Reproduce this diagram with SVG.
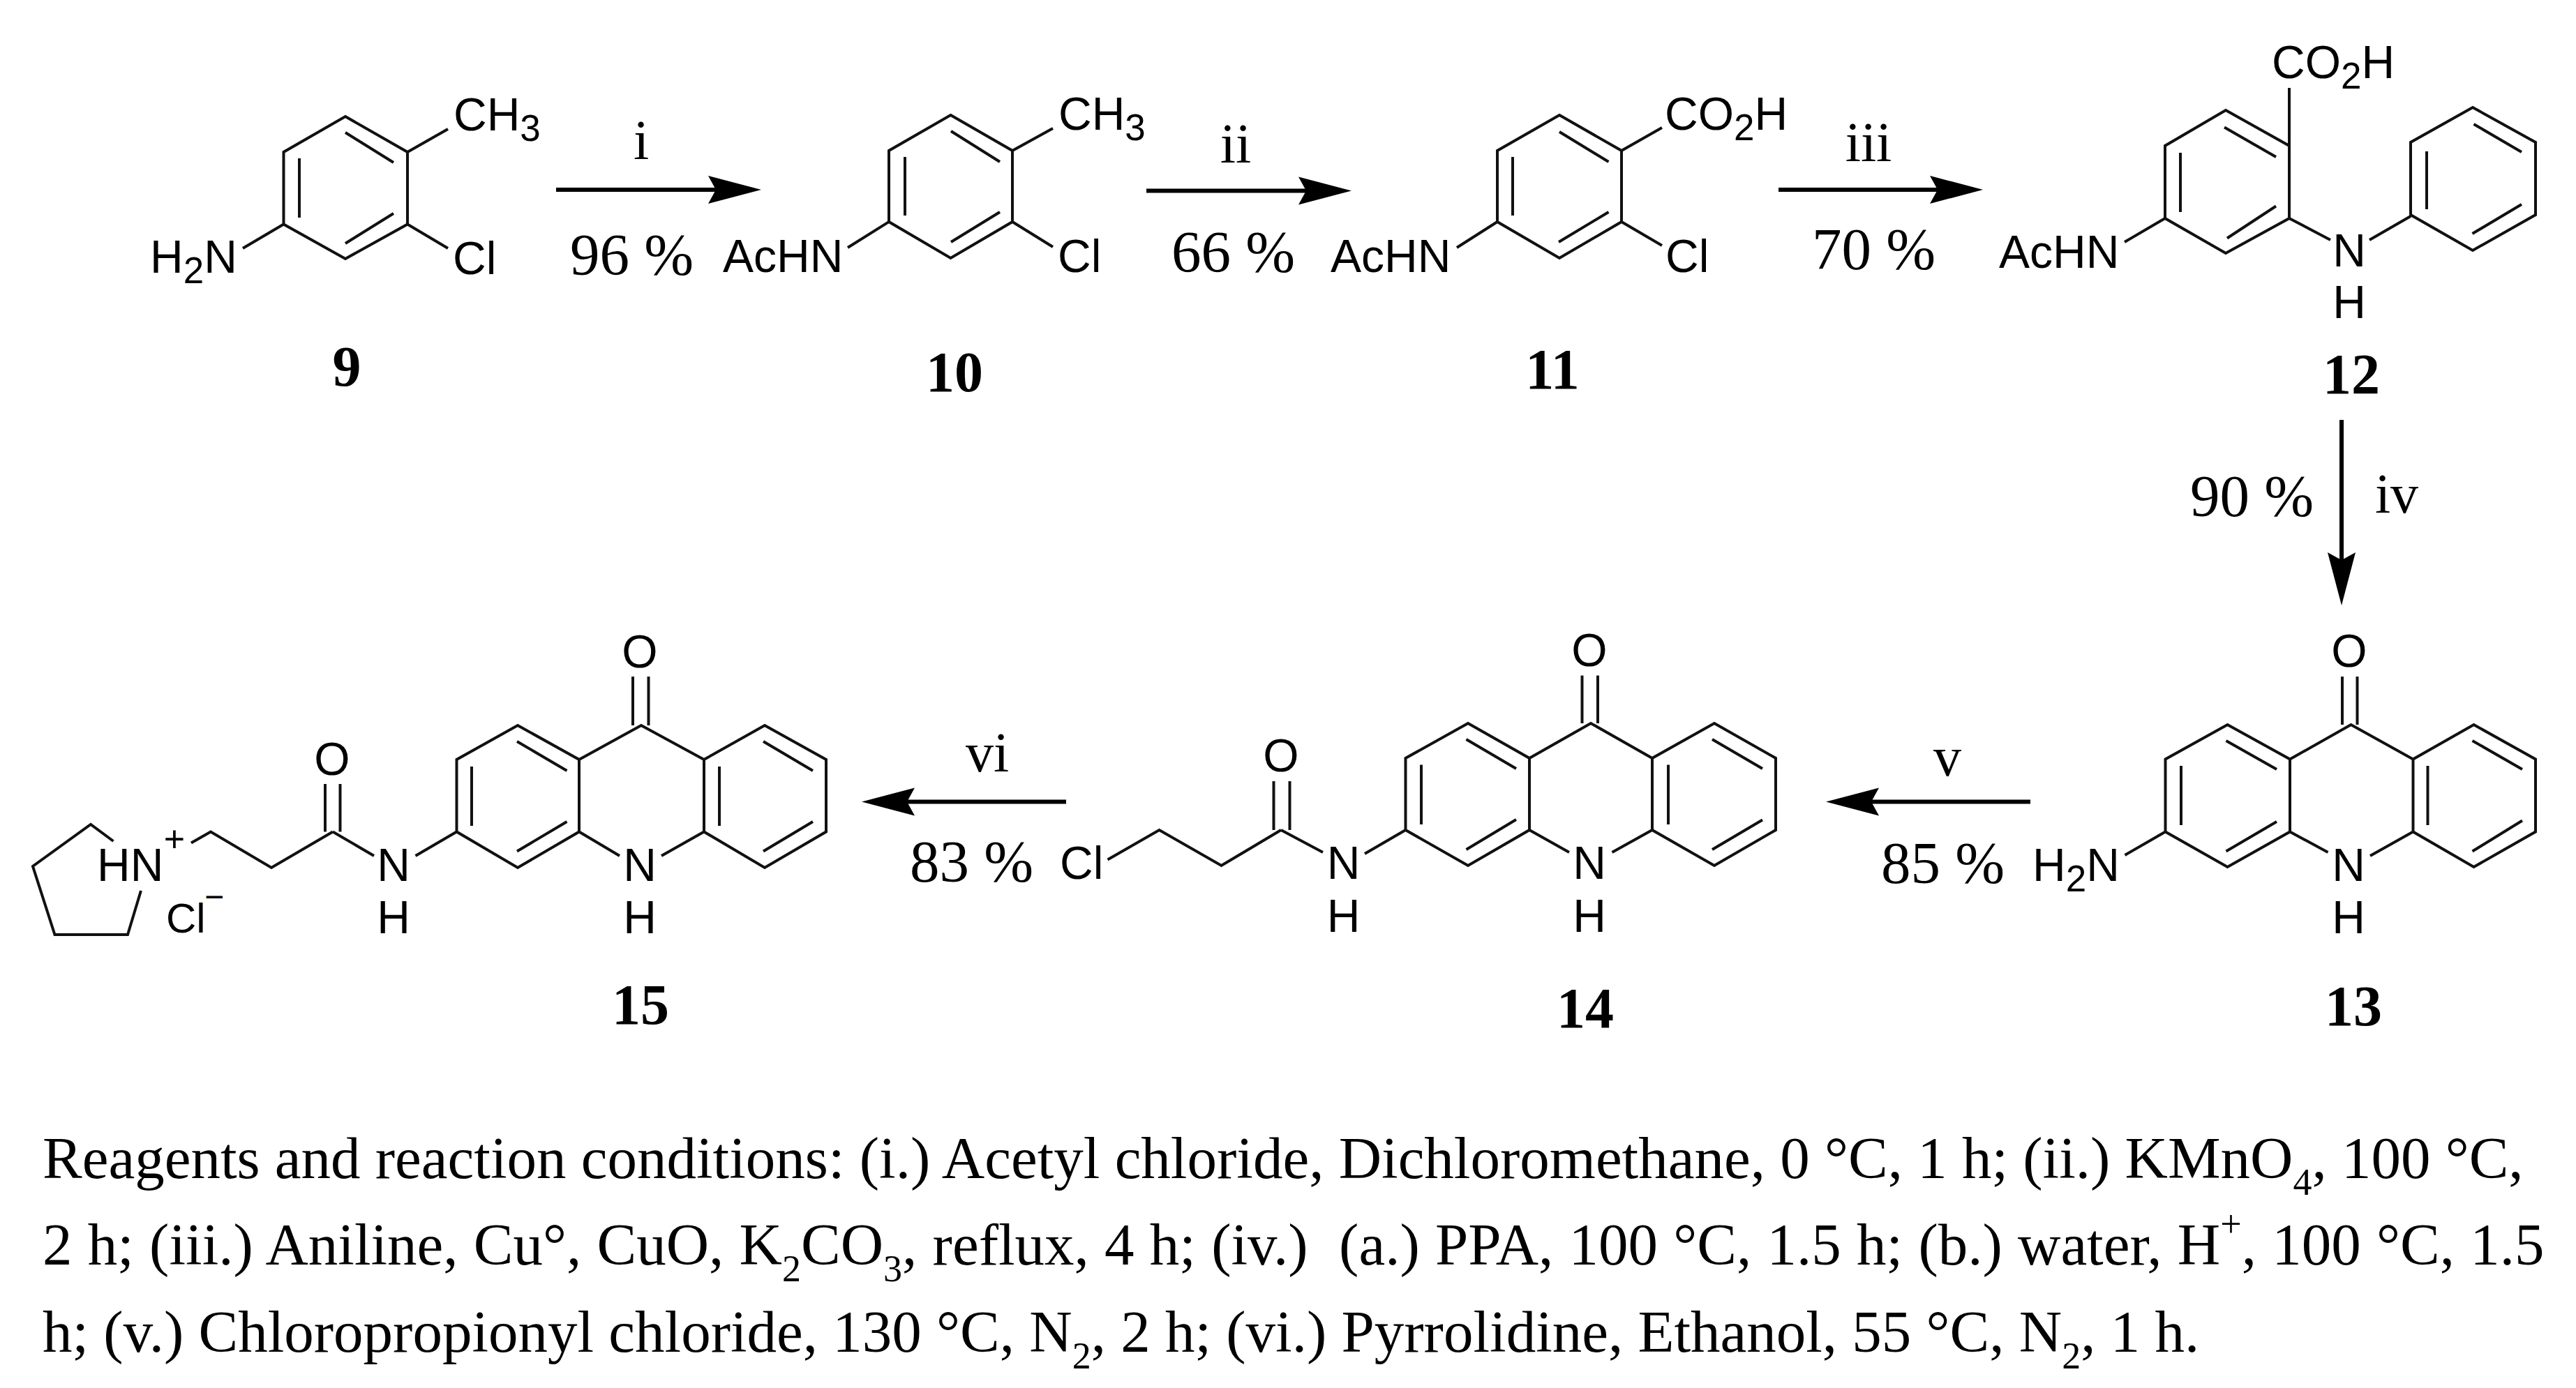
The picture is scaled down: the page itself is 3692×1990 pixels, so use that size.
<svg xmlns="http://www.w3.org/2000/svg" width="3692" height="1990" viewBox="0 0 3692 1990">
<style>
.bond{fill:none;stroke:#111;stroke-width:4;stroke-linejoin:miter;stroke-linecap:butt}
.arrow{stroke:#000;stroke-width:6;fill:none}
text{fill:#000}
.a{font:66px "Liberation Sans",Arial,sans-serif}
.s{font-size:53px}
.t{font:85px "Liberation Serif","Times New Roman",serif}
.r{font:80px "Liberation Serif","Times New Roman",serif;text-anchor:middle}
.b{font:bold 82px "Liberation Serif","Times New Roman",serif;text-anchor:middle}
.c{font:85px "Liberation Serif","Times New Roman",serif;white-space:pre}
.cs{font-size:54px}
.m{text-anchor:middle}
</style>
<defs>
<marker id="head" markerUnits="userSpaceOnUse" markerWidth="76" markerHeight="42" viewBox="0 0 76 42" refX="42" refY="21" orient="auto"><path d="M0 1L76 21L0 41L11 21Z" fill="#000"/></marker>
</defs>
<rect width="3692" height="1990" fill="#fff"/>
<g id="connectors">
<line class="arrow" x1="797" y1="272" x2="1057" y2="272" marker-end="url(#head)"/>
<line class="arrow" x1="1643" y1="273.5" x2="1903" y2="273.5" marker-end="url(#head)"/>
<line class="arrow" x1="2549" y1="272" x2="2808" y2="272" marker-end="url(#head)"/>
<line class="arrow" x1="3356" y1="602" x2="3356" y2="834" marker-end="url(#head)"/>
<line class="arrow" x1="2910" y1="1149.5" x2="2651" y2="1149.5" marker-end="url(#head)"/>
<line class="arrow" x1="1528" y1="1149.5" x2="1269" y2="1149.5" marker-end="url(#head)"/>
<text class="r" x="919" y="228">i</text>
<text class="t" x="817" y="394">96 %</text>
<text class="r" x="1771" y="233">ii</text>
<text class="t" x="1679" y="390">66 %</text>
<text class="r" x="2678" y="231">iii</text>
<text class="t" x="2597" y="386">70 %</text>
<text class="t" x="3139" y="740">90 %</text>
<text class="r" x="3435" y="735">iv</text>
<text class="r" x="2791" y="1112">v</text>
<text class="t" x="2696" y="1266">85 %</text>
<text class="r" x="1415" y="1106">vi</text>
<text class="t" x="1304" y="1264">83 %</text>
</g>
<g id="node-9">
<path class="bond" d="M495 167L584 218V321.500L495 371L406.500 321.500V218ZM429 227V312M495 190L564 233M564 306L495 349M584 218L642 185M584 321.500L642 356M406.500 321.500L348 356"/>
<text class="a" x="650" y="187">CH<tspan class="s" dy="15">3</tspan></text>
<text class="a" x="649" y="393">Cl</text>
<text class="a" x="215" y="391">H<tspan class="s" dy="15">2</tspan><tspan dy="-15">N</tspan></text>
<text class="b" x="497" y="553">9</text>
</g>
<g id="node-10">
<path class="bond" d="M1362.500 165L1451 216V318L1362.500 370L1274 318V216ZM1297 225V309M1363 188L1433 232M1433 304L1363 347M1451 216L1509 184M1451 318L1509 354M1274 318L1215 355"/>
<text class="a" x="1517" y="186">CH<tspan class="s" dy="15">3</tspan></text>
<text class="a" x="1516" y="390">Cl</text>
<text class="a" x="1036" y="390">AcHN</text>
<text class="b" x="1368" y="561">10</text>
</g>
<g id="node-11">
<path class="bond" d="M2235 165L2324 216V318L2235 370L2146 318V216ZM2168 225V309M2235 189L2305.500 232M2305.500 304L2234 347M2324 216L2382 183M2324 318L2382 352M2146 318L2088 355"/>
<text class="a" x="2386" y="186">CO<tspan class="s" dy="15">2</tspan><tspan dy="-15">H</tspan></text>
<text class="a" x="2387" y="390">Cl</text>
<text class="a" x="1907" y="390">AcHN</text>
<text class="b" x="2225" y="557">11</text>
</g>
<g id="node-12">
<path class="bond" d="M3190 158L3281 209V313L3190 363L3103 313V209ZM3125 219V304M3188 182.500L3262 225M3262 295.500L3192 341.500M3281 209V126M3103 313L3045 347M3281 313L3340 344M3396 344L3455 310M3544 154L3634 204V308L3544 359L3455 308V204ZM3478 217V300M3545.500 178L3614 218M3614 293L3543.500 335"/>
<text class="a" x="3256" y="112">CO<tspan class="s" dy="15">2</tspan><tspan dy="-15">H</tspan></text>
<text class="a" x="2865" y="384">AcHN</text>
<text class="a m" x="3385" y="382" dx="-18">N</text>
<text class="a m" x="3367" y="456">H</text>
<text class="b" x="3370" y="564">12</text>
</g>
<g id="node-13">
<path class="bond" d="M3192.500 1039L3282 1088.500V1192.500L3192.500 1243L3103.500 1192.500V1088.500ZM3126 1098V1183M3190.500 1062L3263 1103M3263 1178L3190.500 1220.500M3282 1088.500L3369.500 1039L3458.500 1088.500M3545.500 1039L3634 1088.500V1192.500L3545.500 1243L3458.500 1192.500V1088.500ZM3479.500 1098V1183M3543.500 1062L3615 1103M3615 1176.500L3543.500 1220.500M3357 970V1039M3378.500 970V1039M3282 1192.500L3336.500 1222M3458.500 1192.500L3397 1227M3103.500 1192.500L3045.500 1226"/>
<text class="a m" x="3367" y="956">O</text>
<text class="a m" x="3366" y="1263">N</text>
<text class="a m" x="3366" y="1338">H</text>
<text class="a" x="2913" y="1263">H<tspan class="s" dy="15">2</tspan><tspan dy="-15">N</tspan></text>
<text class="b" x="3373" y="1470">13</text>
</g>
<g id="node-14">
<path class="bond" d="M2104 1037L2192 1087V1190L2104 1241L2014.500 1190V1087ZM2037 1096.500V1182M2101.500 1060L2173 1102M2173 1175L2101.500 1218M2192 1087L2280 1037L2368 1087M2457 1037L2545 1087V1190L2457 1241L2368 1190V1087ZM2391 1096.500V1182M2454 1060L2526 1102M2526 1175.500L2454 1218M2267.500 968.500V1037M2290 968.500V1037M2192 1190L2249 1222M2368 1190L2310.500 1222M2014.500 1190L1956 1224M1836 1190L1896 1222M1836 1190L1750.500 1241L1661.500 1190L1587.500 1232.500M1825.500 1120V1190M1848.500 1120V1190"/>
<text class="a m" x="2278" y="955">O</text>
<text class="a m" x="2278" y="1260">N</text>
<text class="a m" x="2278" y="1336">H</text>
<text class="a m" x="1925.500" y="1260">N</text>
<text class="a m" x="1925.500" y="1336">H</text>
<text class="a m" x="1836" y="1106">O</text>
<text class="a" x="1519" y="1260">Cl</text>
<text class="b" x="2272" y="1473">14</text>
</g>
<g id="node-15">
<path class="bond" d="M742 1040L830 1089V1192.500L742 1244L654.500 1192.500V1089ZM676 1099V1184M741 1063L812.500 1105M812.500 1178L741 1220.500M830 1089L919 1040L1009 1089M1096 1040L1184 1089V1192.500L1096 1244L1009 1192.500V1089ZM1031 1099V1184M1094 1063L1165 1105M1165 1178L1094 1220.500M907 970V1040M929.500 970V1040M830 1192.500L888 1227M1009 1192.500L948 1227M654.500 1192.500L595.500 1227M477 1192.500L536 1227M477 1192.500L389 1244L302 1192.500L274 1208.500M466 1124V1192.500M487.500 1124V1192.500M162.500 1206L130 1182L47 1242L78.500 1340H183L202 1277"/>
<text class="a m" x="917" y="957">O</text>
<text class="a m" x="917" y="1263">N</text>
<text class="a m" x="917" y="1338">H</text>
<text class="a m" x="564" y="1263">N</text>
<text class="a m" x="564" y="1338">H</text>
<text class="a m" x="476" y="1111">O</text>
<text class="a" x="139" y="1263">HN</text>
<text class="a m" x="250" y="1221" style="font-size:52px">+</text>
<text class="a" x="238" y="1337" style="font-size:60px">Cl</text>
<text class="a m" x="307" y="1302" style="font-size:48px">−</text>
<text class="b" x="918" y="1468">15</text>
</g>
<g id="caption">
<text class="c" x="61" y="1689">Reagents and reaction conditions: (i.) Acetyl chloride, Dichloromethane, 0 °C, 1 h; (ii.) KMnO<tspan class="cs" dy="24">4</tspan><tspan dy="-24">, 100 °C,</tspan></text>
<text class="c" x="61" y="1813" word-spacing="1">2 h; (iii.) Aniline, Cu°, CuO, K<tspan class="cs" dy="24">2</tspan><tspan dy="-24">CO</tspan><tspan class="cs" dy="24">3</tspan><tspan dy="-24">, reflux, 4 h; (iv.)  (a.) PPA, 100 °C, 1.5 h; (b.) water, H</tspan><tspan class="cs" dy="-40">+</tspan><tspan dy="40">, 100 °C, 1.5</tspan></text>
<text class="c" x="61" y="1938">h; (v.) Chloropropionyl chloride, 130 °C, N<tspan class="cs" dy="24">2</tspan><tspan dy="-24">, 2 h; (vi.) Pyrrolidine, Ethanol, 55 °C, N</tspan><tspan class="cs" dy="24">2</tspan><tspan dy="-24">, 1 h.</tspan></text>
</g>
</svg>
